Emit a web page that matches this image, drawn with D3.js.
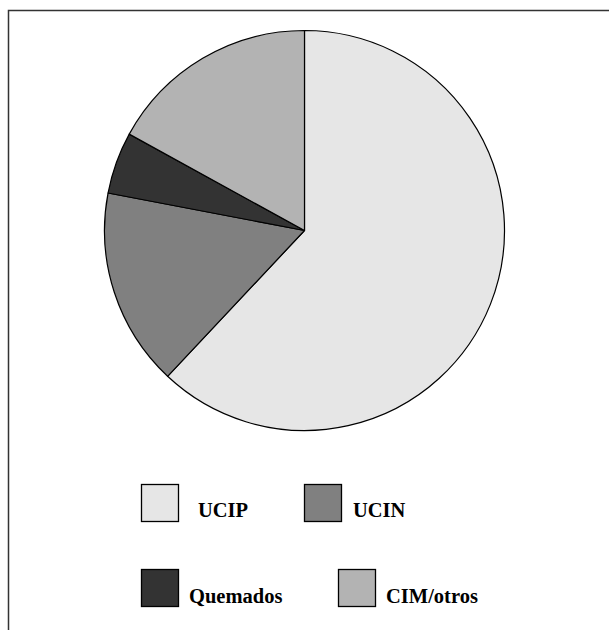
<!DOCTYPE html>
<html>
<head>
<meta charset="utf-8">
<script src="https://cdn.jsdelivr.net/npm/d3@7"></script>
<style>
  html, body { margin: 0; padding: 0; background: #fff; }
  svg { display: block; }
  .legend-label { font-family: "Liberation Serif", "Times New Roman", Times, "DejaVu Serif", serif; font-weight: bold; }
</style>
</head>
<body>
<svg id="chart" width="609" height="630"></svg>
<script>
// Distribution of patients by unit (percent)
const categories = ["UCIP", "UCIN", "Quemados", "CIM/otros"];
const values = [62, 16, 5, 17];
const colors = ["#e6e6e6", "#808080", "#333333", "#b3b3b3"];

const svg = d3.select("#chart");

// Frame (open on the right and bottom)
svg.append("path")
  .attr("d", "M8.5,640 L8.5,10.5 L620,10.5")
  .attr("fill", "none")
  .attr("stroke", "#333")
  .attr("stroke-width", 1.5);

const cx = 304.5, cy = 230.5, r = 200;

const pie = d3.pie().sort(null).value(d => d.value);
const arc = d3.arc().innerRadius(0).outerRadius(r);
const data = categories.map((c, i) => ({ name: c, value: values[i] }));

const g = svg.append("g").attr("transform", `translate(${cx},${cy})`);
g.selectAll("path")
  .data(pie(data))
  .join("path")
  .attr("d", arc)
  .attr("fill", (d, i) => colors[i])
  .attr("stroke", "#000")
  .attr("stroke-width", 1.2)
  .attr("stroke-linejoin", "round");

// Legend: two rows of two entries
const legendPos = [
  { bx: 141, by: 484, tx: 198, ty: 517 },
  { bx: 304, by: 484, tx: 353, ty: 517 },
  { bx: 141, by: 569, tx: 189, ty: 603 },
  { bx: 338, by: 569, tx: 386, ty: 603 }
];
const legend = svg.append("g");
categories.forEach((c, i) => {
  const p = legendPos[i];
  legend.append("rect")
    .attr("x", p.bx + 0.5).attr("y", p.by + 0.5)
    .attr("width", 37).attr("height", 37)
    .attr("fill", colors[i])
    .attr("stroke", "#000")
    .attr("stroke-width", 1.3);
  legend.append("text")
    .attr("class", "legend-label")
    .attr("x", p.tx).attr("y", p.ty)
    .attr("font-size", 20.5)
    .attr("fill", "#000")
    .text(c);
});
</script>
</body>
</html>
